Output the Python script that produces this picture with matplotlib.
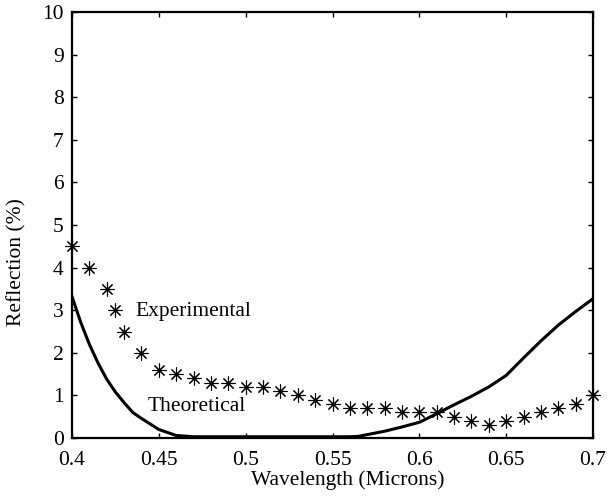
import matplotlib
matplotlib.use("Agg")
import matplotlib.pyplot as plt

plt.rcParams['font.family'] = ['Liberation Serif', 'DejaVu Serif']

# Measured reflection (%) versus wavelength (microns)
exp_wavelength = [0.40, 0.41, 0.42, 0.425, 0.43, 0.44, 0.45, 0.46, 0.47, 0.48,
                  0.49, 0.50, 0.51, 0.52, 0.53, 0.54, 0.55, 0.56, 0.57, 0.58,
                  0.59, 0.60, 0.61, 0.62, 0.63, 0.64, 0.65, 0.66, 0.67, 0.68,
                  0.69, 0.70]
exp_reflection = [4.5, 4.0, 3.5, 3.0, 2.5, 2.0, 1.6, 1.5, 1.4, 1.3,
                  1.3, 1.2, 1.2, 1.1, 1.0, 0.9, 0.8, 0.7, 0.7, 0.7,
                  0.6, 0.6, 0.6, 0.5, 0.4, 0.3, 0.4, 0.5, 0.6, 0.7,
                  0.8, 1.0]

# Computed reflection (%) of the coating
theo_wavelength = [0.40, 0.405, 0.41, 0.415, 0.42, 0.425, 0.43, 0.435, 0.44, 0.45,
                   0.46, 0.47, 0.48, 0.49, 0.50, 0.51, 0.52, 0.53, 0.54, 0.55,
                   0.56, 0.565, 0.57, 0.58, 0.59, 0.60, 0.61, 0.62, 0.63, 0.64,
                   0.65, 0.66, 0.67, 0.68, 0.69, 0.70]
theo_reflection = [3.32, 2.72, 2.2, 1.76, 1.38, 1.08, 0.83, 0.6, 0.46, 0.2,
                   0.06, 0.03, 0.03, 0.03, 0.03, 0.03, 0.03, 0.03, 0.03, 0.03,
                   0.03, 0.04, 0.08, 0.16, 0.26, 0.37, 0.57, 0.78, 0.98, 1.2,
                   1.47, 1.88, 2.28, 2.65, 2.97, 3.27]

x_ticks = [0.4, 0.45, 0.5, 0.55, 0.6, 0.65, 0.7]
x_tick_labels = ['0.4', '0.45', '0.5', '0.55', '0.6', '0.65', '0.7']
y_ticks = list(range(0, 11))

FS = 15.5

fig = plt.figure(figsize=(6.07, 5.01), dpi=100)
ax = fig.add_axes([0.1186, 0.1257, 0.8584, 0.8503])

ax.plot(theo_wavelength, theo_reflection, color='black', linewidth=2.2,
        solid_joinstyle='round', zorder=3)
ax.plot(exp_wavelength, exp_reflection, linestyle='none', marker=(8, 2, 0),
        markersize=10, markeredgewidth=0.8, color='black', zorder=4, clip_on=False)

ax.set_xlim(0.4, 0.7)
ax.set_ylim(0, 10)
ax.set_xticks(x_ticks)
ax.set_xticklabels(x_tick_labels)
ax.set_yticks(y_ticks)

for spine in ax.spines.values():
    spine.set_linewidth(1.6)
ax.tick_params(direction='in', length=3.5, width=1.0, top=True, right=True,
               labelsize=FS)
ax.tick_params(axis='x', pad=9)
ax.tick_params(axis='y', pad=6)

ax.set_xlabel('Wavelength (Microns)', fontsize=FS)
ax.set_ylabel('Reflection (%)', fontsize=FS)
ax.xaxis.set_label_coords(0.53, -0.1)
ax.xaxis.label.set_va('center')
ax.yaxis.set_label_coords(-0.106, 0.413)
ax.yaxis.label.set_va('center')

ax.text(0.4368, 2.96, 'Experimental', fontsize=FS, va='center', ha='left')
ax.text(0.4434, 0.75, 'Theoretical', fontsize=FS, va='center', ha='left')

fig.savefig('out.png', dpi=100)
